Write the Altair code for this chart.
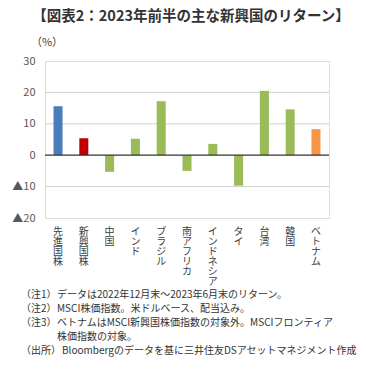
import altair as alt
import pandas as pd

categories = ["先進国株", "新興国株", "中国", "インド", "ブラジル", "南アフリカ",
              "インドネシア", "タイ", "台湾", "韓国", "ベトナム"]
values = [15.6, 5.4, -5.3, 5.2, 17.2, -5.0, 3.6, -9.7, 20.5, 14.6, 8.3]
colors = ["#4A7EBB", "#C00000", "#9BBB59", "#9BBB59", "#9BBB59", "#9BBB59",
          "#9BBB59", "#9BBB59", "#9BBB59", "#9BBB59", "#F79646"]
y_ticks = [30, 20, 10, 0, -10, -20]
grid_values = [20, 10, -10]

title_text = "【図表2：2023年前半の主な新興国のリターン】"
unit_text = "（%）"
note_prefixes = ["（注1）", "（注2）", "（注3）"]
note_lines = [
    "データは2022年12月末～2023年6月末のリターン。",
    "MSCI株価指数。米ドルベース、配当込み。",
    "ベトナムはMSCI新興国株価指数の対象外。MSCIフロンティア",
    "株価指数の対象。",
]
source_prefix = "（出所）"
source_text = "Bloombergのデータを基に三井住友DSアセットマネジメント作成"

FONT = "Noto Sans CJK JP"
W, H = 284, 157

df = pd.DataFrame({"cat": categories, "val": values, "color": colors})
grid_df = pd.DataFrame({"g": grid_values})
zero_df = pd.DataFrame({"z": [0]})

yscale = alt.Scale(domain=[-20, 30], nice=False)
yaxis = alt.Axis(title=None, values=y_ticks, grid=False, domain=False,
                 ticks=False, labelPadding=10, labelFont=FONT,
                 labelFontSize=11, labelColor="#595959",
                 labelOverlap=False, labelFlush=False,
                 labelExpr="datum.value < 0 ? '▲' + abs(datum.value) : datum.value")

grid = alt.Chart(grid_df).mark_rule(color="#D0D0D0", strokeWidth=1).encode(
    y=alt.Y("g:Q", scale=yscale, axis=yaxis)
)

bars = alt.Chart(df).mark_bar().encode(
    x=alt.X("cat:N", sort=categories,
            scale=alt.Scale(paddingInner=0.65, paddingOuter=0.33),
            axis=alt.Axis(title=None, labelAngle=0, domain=False, ticks=False,
                          labelExpr="split(datum.label, '')",
                          labelLineHeight=10, labelBaseline="top",
                          labelPadding=8, labelFont=FONT, labelFontSize=10,
                          labelColor="#404040", labelOverlap=False)),
    y=alt.Y("val:Q", scale=yscale, axis=yaxis),
    color=alt.Color("color:N", scale=None),
)

zero = alt.Chart(zero_df).mark_rule(color="#333333", strokeWidth=1.2).encode(
    y=alt.Y("z:Q", scale=yscale, axis=yaxis)
)

title = alt.Chart(pd.DataFrame({"t": [title_text]})).mark_text(
    font=FONT, fontSize=14.5, fontWeight="bold", color="#333333", align="center",
    baseline="middle"
).encode(text="t:N", x=alt.value(146), y=alt.value(-44))

unit = alt.Chart(pd.DataFrame({"t": [unit_text]})).mark_text(
    font=FONT, fontSize=11, color="#404040", align="center", baseline="middle"
).encode(text="t:N", x=alt.value(2), y=alt.value(-18))

prefix_mark = alt.Chart(pd.DataFrame({"i": [0]})).mark_text(
    font=FONT, fontSize=10, color="#333333", align="left", baseline="middle",
    lineHeight=14, text=note_prefixes
).encode(x=alt.value(-24), y=alt.value(234))

notes_mark = alt.Chart(pd.DataFrame({"i": [0]})).mark_text(
    font=FONT, fontSize=10, color="#333333", align="left", baseline="middle",
    lineHeight=14, text=note_lines
).encode(x=alt.value(12), y=alt.value(234))

src_prefix_mark = alt.Chart(pd.DataFrame({"t": [source_prefix]})).mark_text(
    font=FONT, fontSize=10, color="#333333", align="left", baseline="middle"
).encode(text="t:N", x=alt.value(-24), y=alt.value(290))

src_mark = alt.Chart(pd.DataFrame({"t": [source_text]})).mark_text(
    font=FONT, fontSize=10, color="#333333", align="left", baseline="middle"
).encode(text="t:N", x=alt.value(17), y=alt.value(290))

chart = alt.layer(grid, bars, zero, title, unit, prefix_mark, notes_mark,
                  src_prefix_mark, src_mark).properties(
    width=W, height=H,
    autosize=alt.AutoSizeParams(type="none"),
    padding={"left": 37, "top": 53, "right": 29, "bottom": 153},
).configure_view(stroke="#333333", strokeWidth=1.2).configure(background="white")

chart.save("out.html", embed_options={"renderer": "svg", "actions": False})
